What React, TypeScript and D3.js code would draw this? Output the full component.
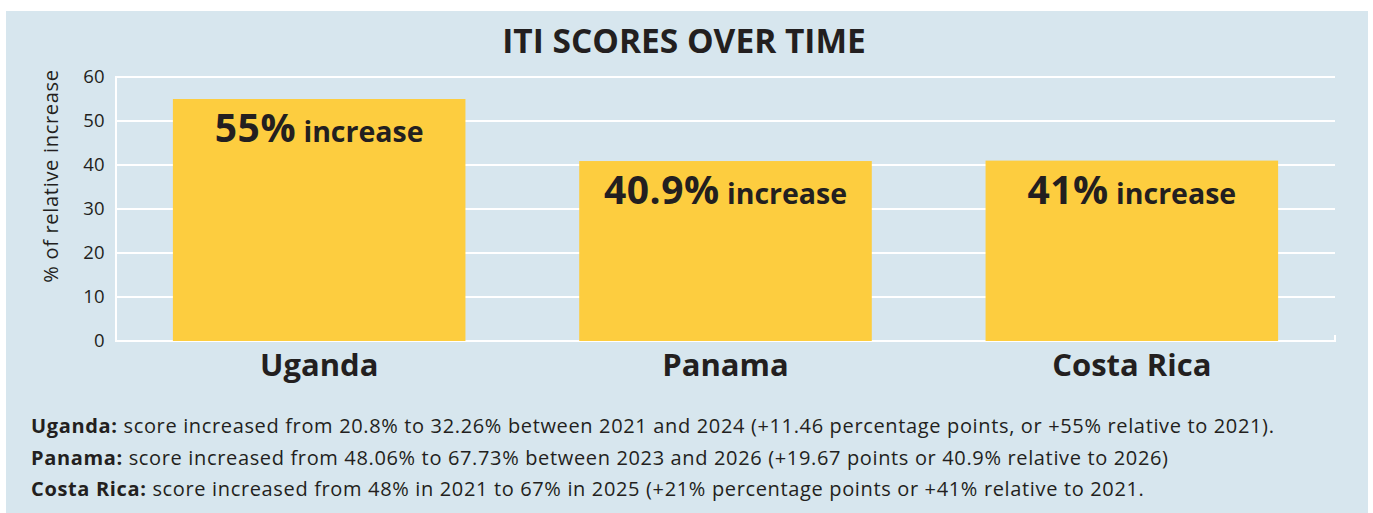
import React from "react";
import * as d3 from "d3";

const categories = ["Uganda", "Panama", "Costa Rica"];
const values = [55, 40.9, 41];
const valueLabels = ["55%", "40.9%", "41%"];
const labelSuffix = " increase";
const yTicks = [0, 10, 20, 30, 40, 50, 60];
const title = "ITI SCORES OVER TIME";
const yAxisTitle = "% of relative increase";
const noteHeads = ["Uganda:", "Panama:", "Costa Rica:"];
const noteBodies = [
  " score increased from 20.8% to 32.26% between 2021 and 2024 (+11.46 percentage points, or +55% relative to 2021).",
  " score increased from 48.06% to 67.73% between 2023 and 2026 (+19.67 points or 40.9% relative to 2026)",
  " score increased from 48% in 2021 to 67% in 2025 (+21% percentage points or +41% relative to 2021.",
];

const W = 1373;
const H = 513;
const BG = "#D7E6EE";
const BAR = "#FDCD3F";
const INK = "#231F20";
const FONT = "'Open Sans', 'Noto Sans', sans-serif";

export default function App() {
  const x = d3
    .scaleBand<string>()
    .domain(categories)
    .range([116, 1335])
    .paddingInner(0.28)
    .paddingOuter(0.14);
  const y = d3.scaleLinear().domain([0, 60]).range([341, 77]);
  const [x0, x1] = x.range();

  return (
    <svg
      width={W}
      height={H}
      style={{ position: "absolute", left: 0, top: 0, display: "block" }}
      fontFamily={FONT}
    >
      <rect x={6} y={11} width={1362} height={H - 11} fill={BG} />
      <text x={684} y={53} textAnchor="middle" fontSize={33.5} fontWeight={700} fill={INK}>
        {title}
      </text>
      {/* gridlines */}
      {yTicks.map((t) => (
        <line key={t} x1={x0} x2={x1} y1={y(t)} y2={y(t)} stroke="#fff" strokeWidth={2} />
      ))}
      <line x1={x0} x2={x0} y1={y(60) - 1} y2={y(0) + 1} stroke="#fff" strokeWidth={2} />
      <line x1={x1} x2={x1} y1={y(0) - 6} y2={y(0) + 1} stroke="#fff" strokeWidth={2} />
      {/* tick labels */}
      {yTicks.map((t) => (
        <text
          key={"l" + t}
          x={105}
          y={y(t)}
          dy="0.35em"
          textAnchor="end"
          fontSize={18.5}
          letterSpacing={0.3}
          fill={INK}
        >
          {t}
        </text>
      ))}
      <text
        transform="translate(58,176) rotate(-90)"
        textAnchor="middle"
        fontSize={20}
        letterSpacing={0.7}
        fill={INK}
      >
        {yAxisTitle}
      </text>
      {/* bars */}
      {categories.map((c, i) => (
        <rect
          key={c}
          x={x(c)}
          y={y(values[i])}
          width={x.bandwidth()}
          height={y(0) - y(values[i])}
          fill={BAR}
        />
      ))}
      {categories.map((c, i) => (
        <text
          key={"v" + c}
          x={(x(c) as number) + x.bandwidth() / 2}
          y={y(values[i]) + 43}
          textAnchor="middle"
          fontWeight={700}
          fill={INK}
        >
          <tspan fontSize={39} letterSpacing={0.5}>{valueLabels[i]}</tspan>
          <tspan fontSize={28.5}>{labelSuffix}</tspan>
        </text>
      ))}
      {categories.map((c) => (
        <text
          key={"c" + c}
          x={(x(c) as number) + x.bandwidth() / 2}
          y={376}
          textAnchor="middle"
          fontSize={31}
          fontWeight={700}
          fill={INK}
        >
          {c}
        </text>
      ))}
      {noteHeads.map((h, i) => (
        <text
          key={"n" + i}
          x={31}
          y={433 + i * 31.5}
          fontSize={20}
          letterSpacing={0.65}
          fill={INK}
        >
          <tspan fontWeight={700}>{h}</tspan>
          <tspan>{noteBodies[i]}</tspan>
        </text>
      ))}
    </svg>
  );
}
